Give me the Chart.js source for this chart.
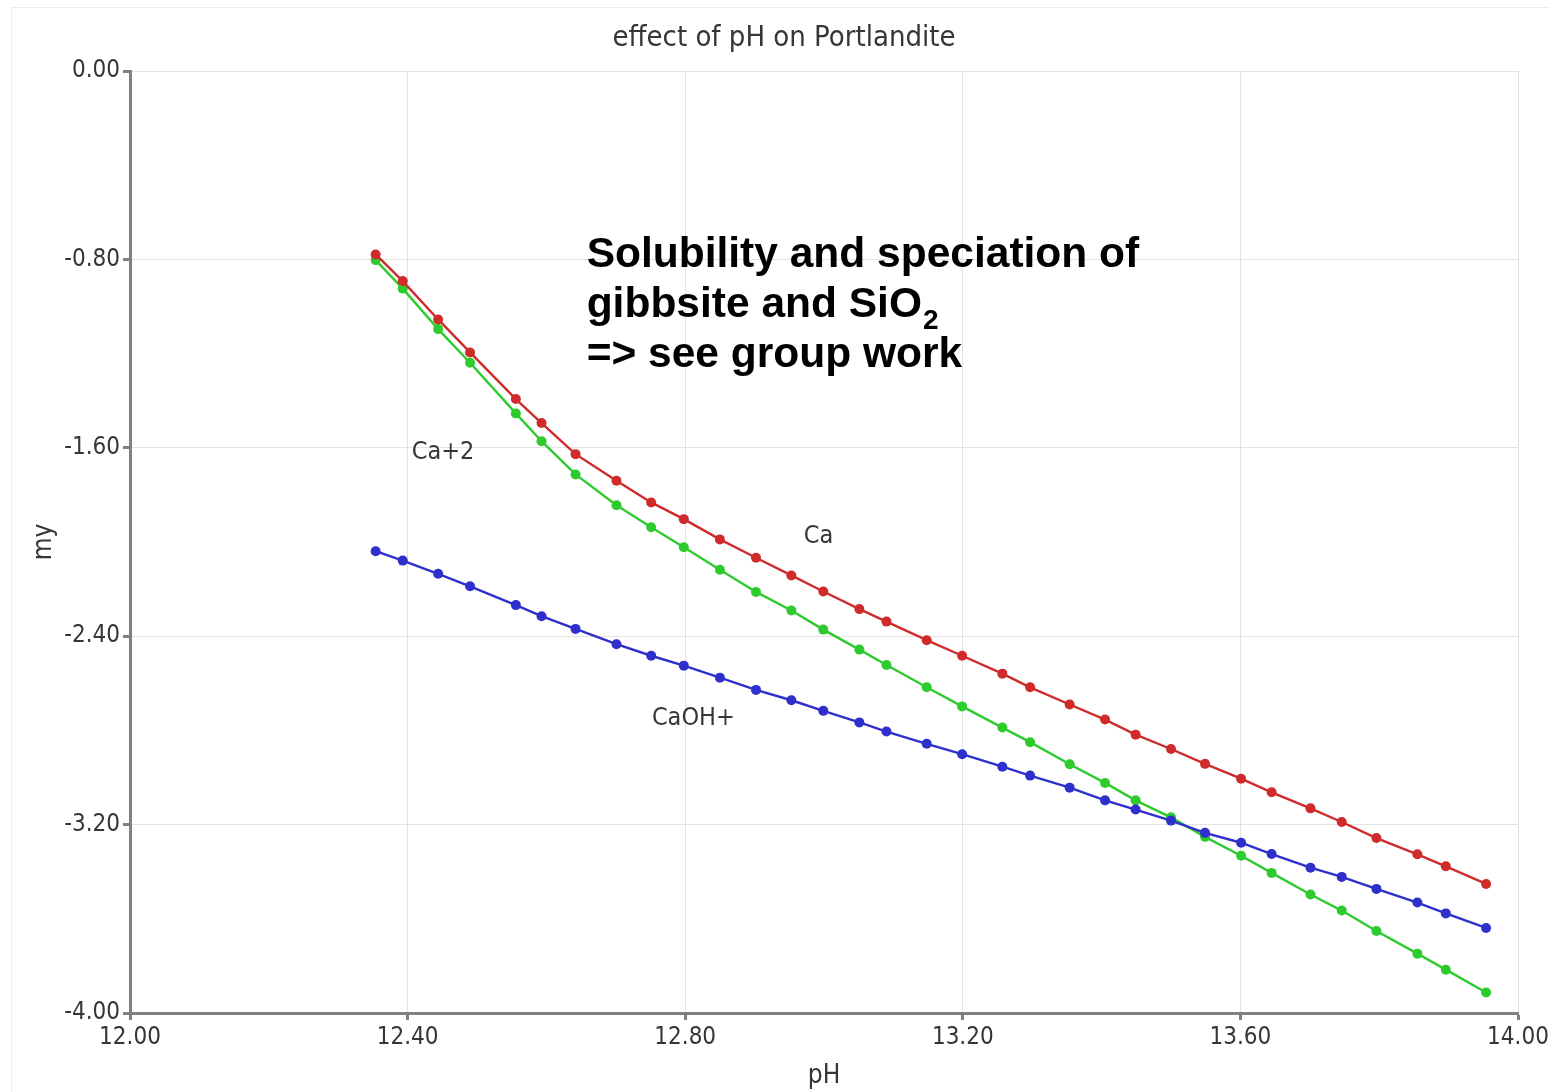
<!DOCTYPE html>
<html>
<head>
<meta charset="utf-8">
<title>effect of pH on Portlandite</title>
<script src="https://cdn.jsdelivr.net/npm/chart.js@4.4.0/dist/chart.umd.min.js"></script>
<style>
  html, body { margin: 0; padding: 0; background: #ffffff; }
  #wrap { width: 1549px; height: 1092px; position: relative; }
  canvas { display: block; }
</style>
</head>
<body>
<div id="wrap"><canvas id="chart" width="1549" height="1092"></canvas></div>
<script>
// pH of each equilibrium step
const pH = [12.354, 12.393, 12.444, 12.490, 12.556, 12.593, 12.642, 12.701, 12.751, 12.798,
            12.850, 12.902, 12.953, 12.999, 13.051, 13.090, 13.148, 13.199, 13.257, 13.297,
            13.354, 13.405, 13.449, 13.500, 13.549, 13.601, 13.645, 13.701, 13.746, 13.796,
            13.855, 13.896, 13.954];

// log molality of total dissolved calcium
const caTotal = [-0.779, -0.892, -1.055, -1.195, -1.393, -1.495, -1.627, -1.740, -1.832, -1.903,
                 -1.989, -2.067, -2.142, -2.210, -2.285, -2.338, -2.417, -2.483, -2.559, -2.617,
                 -2.690, -2.754, -2.818, -2.879, -2.942, -3.005, -3.063, -3.131, -3.189, -3.257,
                 -3.326, -3.377, -3.452];

// log molality of free Ca+2
const caIon = [-0.803, -0.924, -1.096, -1.239, -1.454, -1.572, -1.713, -1.844, -1.937, -2.022,
               -2.118, -2.212, -2.291, -2.372, -2.457, -2.522, -2.617, -2.698, -2.788, -2.850,
               -2.944, -3.023, -3.097, -3.169, -3.252, -3.332, -3.405, -3.497, -3.565, -3.652,
               -3.748, -3.816, -3.913];

// log molality of the CaOH+ complex
const caOH = [-2.039, -2.079, -2.135, -2.188, -2.268, -2.315, -2.369, -2.434, -2.483, -2.525,
              -2.576, -2.628, -2.672, -2.717, -2.766, -2.805, -2.857, -2.901, -2.954, -2.992,
              -3.043, -3.097, -3.136, -3.183, -3.235, -3.277, -3.325, -3.383, -3.422, -3.473,
              -3.531, -3.577, -3.639];

// axis ticks
const xTickValues = [12.0, 12.4, 12.8, 13.2, 13.6, 14.0];
const yTickValues = [0.0, -0.8, -1.6, -2.4, -3.2, -4.0];

// series names and the data point where each name is written (pH, log m)
const seriesLabels = ['Ca', 'CaOH+', 'Ca+2'];
const labelAnchors = [[12.971, -2.006], [12.752, -2.777], [12.406, -1.649]];

// overlaid note
const noteLines = ['Solubility and speciation of', 'gibbsite and SiO', '=> see group work'];
const noteSubscript = '2';
const noteAnchor = [12.658, -0.831];

const COND = '"DejaVu Sans Condensed", "DejaVu Sans", sans-serif';
const TEXT = '#363636';
const GRID = '#e3e3e3';
const AXIS = '#808080';

const toPoints = ys => pH.map((x, i) => ({ x: x, y: ys[i] }));

function seriesStyle(color) {
  return {
    borderColor: color,
    backgroundColor: color,
    pointBackgroundColor: color,
    pointBorderColor: color,
    pointBorderWidth: 0,
    pointRadius: 5,
    borderWidth: 2.4,
    tension: 0,
    fill: false
  };
}

// light outer frame of the chart panel
const framePlugin = {
  id: 'frame',
  beforeDraw(chart) {
    const ctx = chart.ctx;
    ctx.save();
    ctx.fillStyle = '#ffffff';
    ctx.fillRect(0, 0, chart.width, chart.height);
    ctx.strokeStyle = '#ececec';
    ctx.lineWidth = 1;
    ctx.strokeRect(11.5, 7.5, chart.width + 20, chart.height + 20);
    ctx.restore();
  }
};

// centre the chart title over the panel rather than the full canvas
const titleShiftPlugin = {
  id: 'titleShift',
  afterLayout(chart) {
    const t = chart.titleBlock;
    if (t) { t.left += 25; t.right += 25; }
  }
};

// series names and the note, placed through the chart scales
const textPlugin = {
  id: 'seriesText',
  afterDatasetsDraw(chart) {
    const ctx = chart.ctx;
    const xs = chart.scales.x, ys = chart.scales.y;
    ctx.save();
    ctx.textAlign = 'left';
    ctx.textBaseline = 'alphabetic';
    ctx.fillStyle = TEXT;
    ctx.font = '25px ' + COND;
    seriesLabels.forEach((s, i) => {
      ctx.fillText(s, xs.getPixelForValue(labelAnchors[i][0]), ys.getPixelForValue(labelAnchors[i][1]));
    });

    const nx = xs.getPixelForValue(noteAnchor[0]);
    const ny = ys.getPixelForValue(noteAnchor[1]);
    const step = 50;
    ctx.fillStyle = '#000000';
    ctx.font = 'bold 42.5px "Liberation Sans", Arial, sans-serif';
    noteLines.forEach((line, i) => {
      ctx.fillText(line, nx, ny + i * step);
    });
    const w = ctx.measureText(noteLines[1]).width;
    ctx.font = 'bold 28px "Liberation Sans", Arial, sans-serif';
    ctx.fillText(noteSubscript, nx + w + 1, ny + step + 12);
    ctx.restore();
  }
};

new Chart(document.getElementById('chart'), {
  type: 'line',
  data: {
    datasets: [
      Object.assign({ label: seriesLabels[0], data: toPoints(caTotal) }, seriesStyle('#cf2b2b')),
      Object.assign({ label: seriesLabels[1], data: toPoints(caOH) }, seriesStyle('#2f2fcc')),
      Object.assign({ label: seriesLabels[2], data: toPoints(caIon) }, seriesStyle('#2ecb2e'))
    ]
  },
  options: {
    responsive: false,
    animation: false,
    events: [],
    layout: { padding: { left: 0, right: 31, top: 0, bottom: 0 } },
    plugins: {
      legend: { display: false },
      tooltip: { enabled: false },
      title: {
        display: true,
        text: 'effect of pH on Portlandite',
        color: TEXT,
        font: { family: COND, size: 29, weight: 'normal', lineHeight: 1.2 },
        padding: { top: 21, bottom: 15.2 }
      }
    },
    scales: {
      x: {
        type: 'linear',
        min: 12,
        max: 14,
        afterBuildTicks: s => { s.ticks = xTickValues.map(v => ({ value: v })); },
        afterFit: s => { s.height = 79; s.paddingLeft = 0; s.paddingRight = 0; },
        ticks: {
          color: TEXT,
          font: { family: COND, size: 24 },
          padding: 3,
          maxRotation: 0,
          callback: v => Number(v).toFixed(2)
        },
        grid: { color: GRID, lineWidth: 1, tickColor: AXIS, tickWidth: 3, tickLength: 7 },
        border: { color: AXIS, width: 3 },
        title: {
          display: true,
          text: 'pH',
          color: TEXT,
          font: { family: COND, size: 26, lineHeight: 1.2 },
          padding: { top: 0, bottom: 0 }
        }
      },
      y: {
        type: 'linear',
        min: -4,
        max: 0,
        afterBuildTicks: s => { s.ticks = yTickValues.map(v => ({ value: v })); },
        afterFit: s => { s.width = 130; },
        ticks: {
          color: TEXT,
          font: { family: COND, size: 24 },
          padding: 3,
          callback: v => Number(v).toFixed(2)
        },
        grid: { color: GRID, lineWidth: 1, tickColor: AXIS, tickWidth: 3, tickLength: 7 },
        border: { color: AXIS, width: 3 },
        title: {
          display: true,
          text: 'my',
          color: TEXT,
          font: { family: COND, size: 26, lineHeight: 1.2 },
          padding: { top: 29, bottom: 0 }
        }
      }
    }
  },
  plugins: [framePlugin, titleShiftPlugin, textPlugin]
});
</script>
</body>
</html>
